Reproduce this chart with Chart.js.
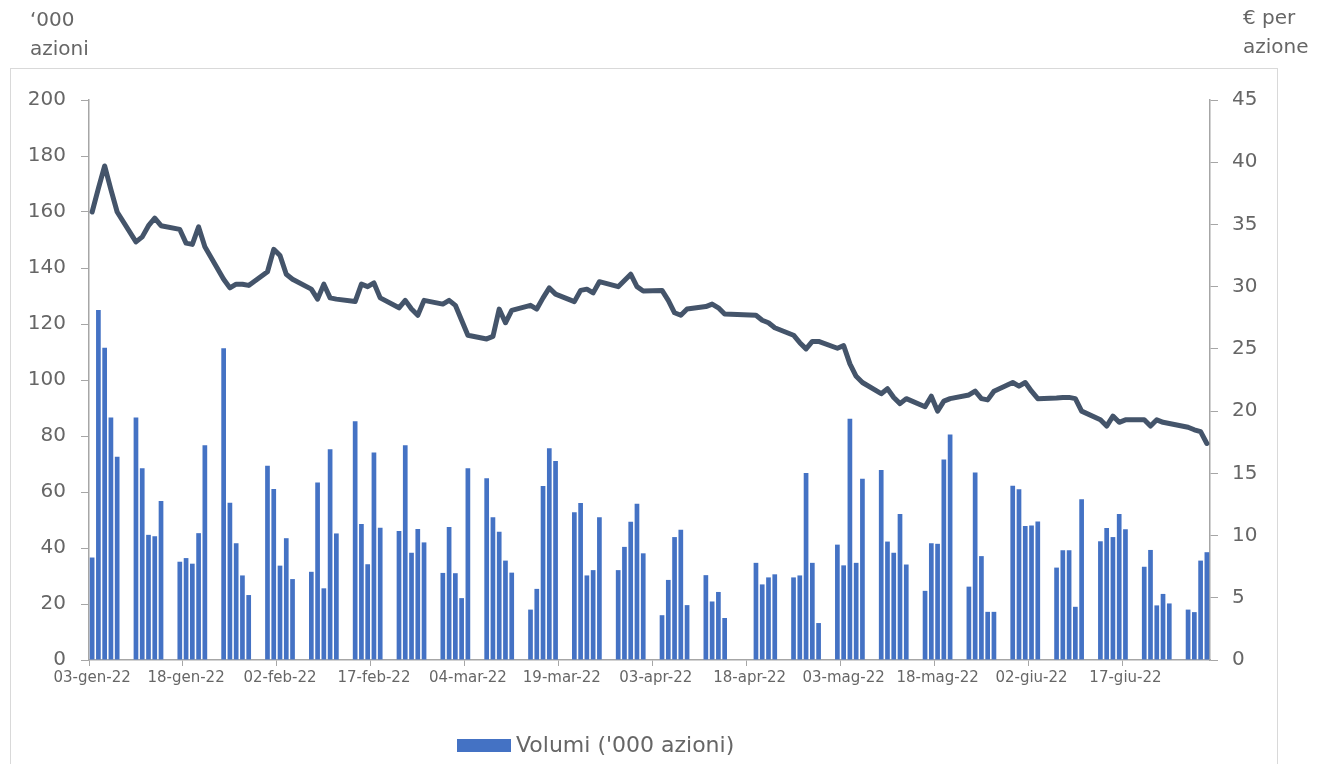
<!DOCTYPE html>
<html>
<head>
<meta charset="utf-8">
<script src="https://cdn.jsdelivr.net/npm/chart.js@4.4.0/dist/chart.umd.min.js"></script>
<style>
body{margin:0;background:#fff;font-family:"DejaVu Sans",sans-serif;color:#666;}
#wrap{position:relative;width:1338px;height:764px;overflow:hidden;}
#box{position:absolute;left:10px;top:68px;width:1266px;height:760px;border:1px solid #d9d9d9;}
canvas{position:absolute;left:0;top:0;}
.t{position:absolute;font-size:20px;line-height:29px;}
#legend{position:absolute;left:457px;top:732px;font-size:22px;line-height:26px;display:flex;align-items:center;}
#legend .sw{display:inline-block;width:54px;height:13px;background:#4472c4;margin-right:5px;}
</style>
</head>
<body>
<div id="wrap">
  <div id="box"></div>
  <canvas id="grafico" width="1338" height="764"></canvas>
  <div class="t" style="left:30px;top:5px;">‘000<br>azioni</div>
  <div class="t" style="left:1243px;top:3px;">€ per<br>azione</div>
  <div id="legend"><span class="sw"></span>Volumi ('000 azioni)</div>
</div>
<script>
// volumi giornalieri ('000 azioni), solo giorni di borsa
const volGen = [36.6, 125.0, 111.5, 86.6, 72.6, 86.6, 68.5, 44.7, 44.2, 56.8, 35.1, 36.4, 34.4, 45.3, 76.7, 111.3, 56.2, 41.7, 30.2, 23.2, 69.4];
const volFeb = [61.1, 33.7, 43.5, 28.9, 31.5, 63.4, 25.6, 75.3, 45.2, 85.3, 48.6, 34.2, 74.1, 47.2, 46.1, 76.7, 38.3, 46.8, 42.0, 31.1];
const volMar = [47.5, 31.0, 22.1, 68.5, 64.9, 51.0, 45.8, 35.5, 31.2, 18.0, 25.4, 62.1, 75.6, 71.1, 52.8, 56.1, 30.2, 32.1, 51.0, 32.1, 40.4, 49.4, 55.8];
const volApr = [38.1, 16.0, 28.6, 43.9, 46.5, 19.6, 30.3, 20.9, 24.3, 15.0, 34.7, 27.0, 29.5, 30.6, 29.5, 30.2, 66.8, 34.7, 13.2];
const volMag = [41.2, 33.8, 86.2, 34.7, 64.7, 67.9, 42.3, 38.3, 52.1, 34.1, 24.7, 41.7, 41.5, 71.6, 80.5, 26.2, 67.0, 37.1, 17.2, 17.2, 62.2, 61.0];
const volGiu = [47.9, 48.0, 49.5, 33.0, 39.2, 39.2, 19.0, 57.4, 42.4, 47.1, 43.9, 52.1, 46.7, 33.3, 39.3, 19.5, 23.6, 20.2, 18.0, 17.1, 35.5, 38.5];

// prezzo di chiusura (€ per azione)
const prGen = [36.0, 37.9, 39.7, 37.8, 36.0, 33.6, 34.0, 34.9, 35.5, 34.9, 34.6, 33.5, 33.4, 34.8, 33.2, 30.6, 29.9, 30.2, 30.2, 30.1, 31.2];
const prFeb = [33.0, 32.5, 31.0, 30.6, 29.8, 29.0, 30.2, 29.1, 29.0, 28.8, 30.2, 30.0, 30.3, 29.1, 28.3, 28.9, 28.2, 27.7, 28.9, 28.6];
const prMar = [28.9, 28.5, 27.3, 26.1, 25.8, 26.0, 28.2, 27.1, 28.1, 28.5, 28.2, 29.1, 29.9, 29.4, 28.8, 29.7, 29.8, 29.5, 30.4, 30.0, 30.5, 31.0, 30.0];
const prApr = [29.65, 29.7, 28.9, 27.9, 27.7, 28.2, 28.4, 28.6, 28.3, 27.8, 27.7, 27.3, 27.1, 26.7, 26.1, 25.5, 25.0, 25.6, 25.6];
const prMag = [25.05, 25.26, 23.8, 22.8, 22.3, 21.4, 21.8, 21.1, 20.6, 21.0, 20.35, 21.2, 20.0, 20.8, 21.0, 21.3, 21.6, 21.0, 20.9, 21.6, 22.3, 22.0];
const prGiu = [22.3, 21.6, 21.0, 21.05, 21.1, 21.1, 21.0, 20.0, 19.3, 18.8, 19.6, 19.1, 19.3, 19.3, 18.8, 19.3, 19.1, 19.0, 18.7, 18.5, 18.35, 17.4];

const mesi = ['gen', 'feb', 'mar', 'apr', 'mag', 'giu', 'lug'];
const festivi = ['2022-04-15', '2022-04-18'];

const volumi = [].concat(volGen, volFeb, volMar, volApr, volMag, volGiu);
const prezzi = [].concat(prGen, prFeb, prMar, prApr, prMag, prGiu);

// asse per giorni di calendario, valori solo nei giorni di borsa
const etichette = [], barre = [], linea = [];
let k = 0;
const fine = Date.UTC(2022, 5, 30);
for (let d = new Date(Date.UTC(2022, 0, 3)); d.getTime() <= fine; d.setUTCDate(d.getUTCDate() + 1)) {
    const gg = String(d.getUTCDate()).padStart(2, '0');
    etichette.push(gg + '-' + mesi[d.getUTCMonth()] + '-22');
    const wd = d.getUTCDay();
    const iso = d.toISOString().slice(0, 10);
    if (wd !== 0 && wd !== 6 && !festivi.includes(iso)) {
        barre.push(volumi[k]);
        linea.push(prezzi[k]);
        k++;
    } else {
        barre.push(null);
        linea.push(null);
    }
}

Chart.defaults.font.family = '"DejaVu Sans", sans-serif';
Chart.defaults.color = '#666666';
const grigio = '#a6a6a6';

new Chart(document.getElementById('grafico'), {
    data: {
        labels: etichette,
        datasets: [{
            type: 'line',
            label: 'Prezzo',
            data: linea,
            yAxisID: 'y1',
            borderColor: '#44546a',
            borderWidth: 5,
            pointRadius: 0,
            tension: 0,
            spanGaps: true,
            borderJoinStyle: 'round',
            borderCapStyle: 'round',
            order: 0
        }, {
            type: 'bar',
            label: "Volumi ('000 azioni)",
            data: barre,
            yAxisID: 'y',
            backgroundColor: '#4472c4',
            barPercentage: 0.75,
            categoryPercentage: 1,
            order: 1
        }]
    },
    options: {
        responsive: false,
        animation: false,
        layout: { padding: { top: 100, left: 0, right: 0, bottom: 0 } },
        plugins: { legend: { display: false }, tooltip: { enabled: false } },
        scales: {
            x: {
                offset: true,
                grid: {
                    offset: true,
                    drawOnChartArea: false,
                    tickLength: 6,
                    color: ctx => (ctx.index % 15 === 0 ? grigio : 'rgba(0,0,0,0)')
                },
                border: { color: grigio, width: 1.5 },
                ticks: {
                    autoSkip: false,
                    maxRotation: 0,
                    minRotation: 0,
                    padding: 3,
                    font: { size: 15 },
                    callback: function (v, i) { return i % 15 === 0 ? this.getLabelForValue(v) : ''; }
                },
                afterFit: s => { s.height = 104; }
            },
            y: {
                position: 'left',
                min: 0,
                max: 200,
                ticks: { stepSize: 20, font: { size: 20 }, padding: 15 },
                grid: { drawOnChartArea: false, tickLength: 8, color: grigio },
                border: { color: grigio, width: 1.5 },
                afterFit: s => { s.width = 89; }
            },
            y1: {
                position: 'right',
                min: 0,
                max: 45,
                ticks: { stepSize: 5, font: { size: 20 }, padding: 14 },
                grid: { drawOnChartArea: false, tickLength: 8, color: grigio },
                border: { color: grigio, width: 1.5 },
                afterFit: s => { s.width = 128; }
            }
        }
    }
});
</script>
</body>
</html>
